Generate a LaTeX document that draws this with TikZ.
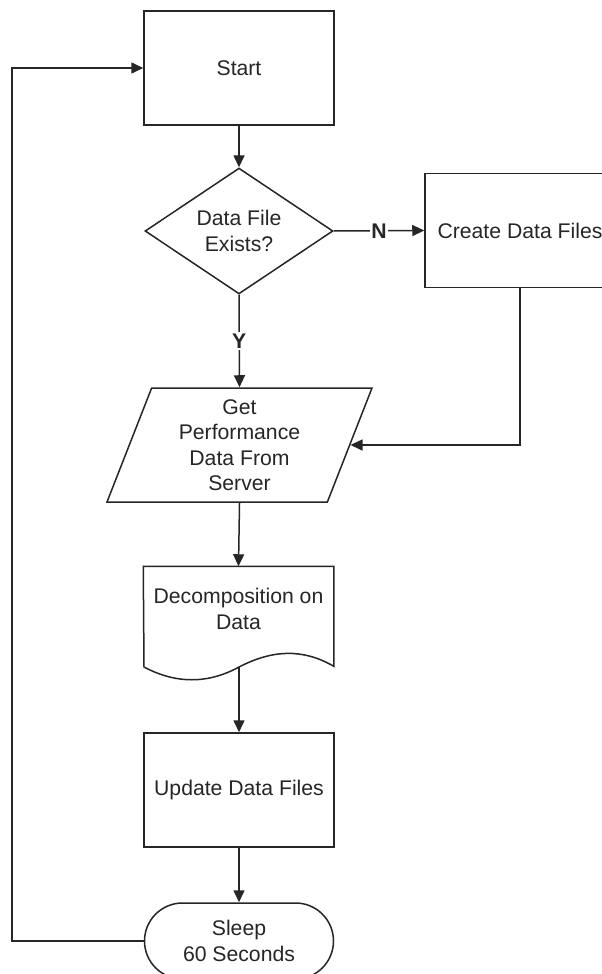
\documentclass[tikz,border=0pt]{standalone}
\usepackage{fontspec}
\setmainfont{Liberation Sans}
\usetikzlibrary{shapes.geometric,arrows.meta}
\colorlet{ink}{black!85}
\begin{document}
\begin{tikzpicture}[x=1pt,y=-1pt,
  line width=1.5pt, color=ink,
  every node/.style={font=\fontsize{21.2}{25.5}\selectfont, text=ink, align=center, inner sep=0pt},
  box/.style={draw=ink, rectangle, minimum width=190pt, minimum height=114pt},
  decision/.style={draw=ink, diamond, minimum width=188pt, minimum height=112pt},
  io/.style={draw=ink, trapezium, trapezium left angle=64, trapezium right angle=116, trapezium stretches body, minimum width=265pt, minimum height=114pt},
  term/.style={draw=ink, rectangle, rounded corners=38pt, minimum width=189pt, minimum height=76pt},
  arr/.style={-{Triangle[length=12pt,width=11pt]}},
  lbl/.style={font=\bfseries\fontsize{21.2}{25.5}\selectfont, fill=white, inner sep=1.5pt}
]
\useasboundingbox (0,0) rectangle (602,974);
\clip (0,0) rectangle (602,974);
\fill[white] (0,0) rectangle (602,974);

\node[box] (start) at (239,68) {Start};
\node[decision] (dec) at (239,231) {Data File\\Exists?};
\node[box] (create) at (520,230.5) {Create Data Files};
\node[io] (get) at (239.5,445) {Get\\Performance\\Data From\\Server};
\node[minimum width=189pt, minimum height=84pt] (doc) at (238.5,609) {Decomposition on\\Data};
\node[box] (upd) at (239,790) {Update Data Files};
\node[term] (sleep) at (239,941) {Sleep\\60 Seconds};

% document shape outline
\draw[line join=miter] (doc.north west) -- (doc.north east) -- ++(0,100)
  .. controls (302,648) and (272,650) .. (239,667)
  .. controls (208,684) and (176,684) .. (144,667) -- cycle;
\coordinate (docb) at (239,667);
\coordinate (loopc) at (12,941);

\draw[arr] (start.south) -- (dec.north);
\draw[arr] (dec.east) -- node[lbl]{N} (create.west);
\draw[arr] (dec.south) -- node[lbl]{Y} (get.north);
\draw[arr] (create.south) |- (get);
\draw[arr] (get.south) -- (doc.north);
\draw[arr] (docb) -- (upd.north);
\draw[arr] (upd.south) -- (sleep.north);
\draw[arr] (sleep.west) -- (loopc) |- (start.west);
\end{tikzpicture}
\end{document}
